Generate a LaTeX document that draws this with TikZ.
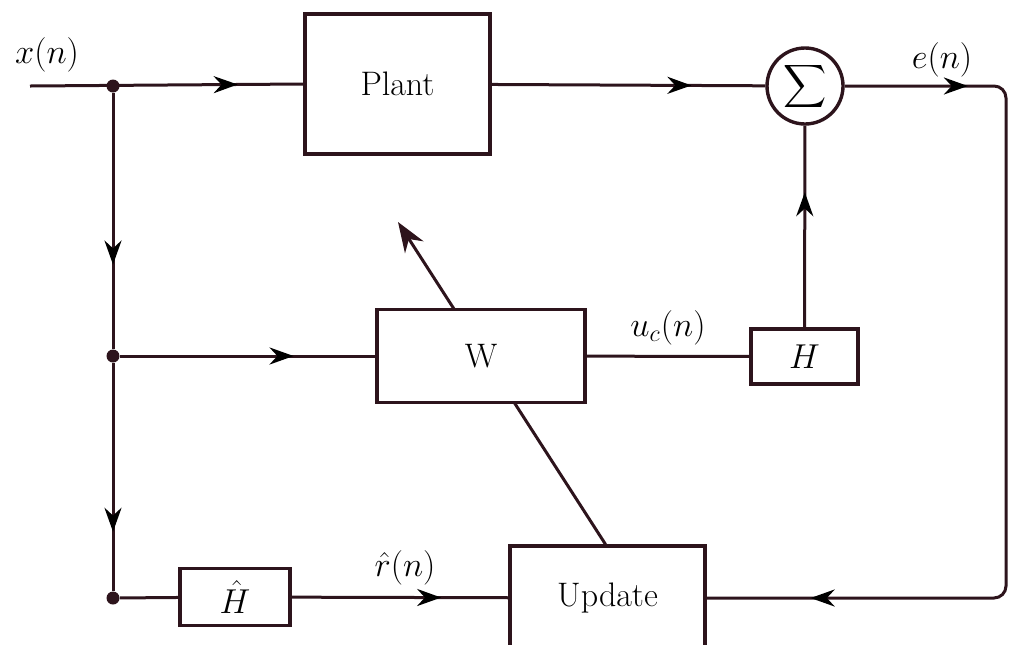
\documentclass[tikz,border=0pt]{standalone}
\usetikzlibrary{arrows.meta,decorations.markings}
\definecolor{col}{RGB}{45,20,28}
\begin{document}
\begin{tikzpicture}[x=0.5pt,y=-0.5pt,
  blk/.style={draw=col, line width=1.7pt, fill=white, inner sep=0pt, font=\fontsize{17}{20}\selectfont},
  ln/.style={draw=col, line width=1.5pt},
  arr/.style={postaction={decorate, decoration={markings, mark=at position #1 with {\arrow[black]{Stealth[length=12pt,width=8.5pt]}}}}},
  jdot/.style={circle, fill=col, inner sep=0pt, minimum size=6.5pt},
  lbl/.style={font=\fontsize{18.5}{22}\selectfont}]
\useasboundingbox (0,0) rectangle (1010,644);
% nodes
\node[blk, minimum width=92.5pt, minimum height=70pt] (plant) at (397.5,84) {Plant};
\node[blk, circle, minimum size=38pt] (sum) at (805,86) {\scalebox{1.5}{$\displaystyle\sum$}};
\node[blk, minimum width=53.5pt, minimum height=27.5pt] (H) at (804.5,356.5) {$H$};
\node[blk, minimum width=55pt, minimum height=28.5pt] (Hh) at (235,597) {$\hat{H}$};
\node[blk, minimum width=97.5pt, minimum height=52pt] (upd) at (607.5,598) {Update};
\coordinate (tip) at (398,222);
\draw[ln, -{Stealth[length=15pt,width=11pt]}] ([xshift=-1pt]upd.north) -- (tip);
\node[blk, minimum width=104pt, minimum height=46.5pt] (W) at (481,356) {W};
\coordinate (in) at (30,86);
\node[jdot] (j1) at (113,86) {};
\node[jdot] (j2) at (113,356) {};
\node[jdot] (j3) at (113,598) {};
\coordinate (c1) at (1006,86);
\coordinate (c2) at (1006,598);
% connectors
\draw[ln, arr=0.76] (in) -- (plant.west);
\draw[ln, arr=0.73] (plant) -- (sum);
\draw[ln, arr=0.67] (j1) -- (j2);
\draw[ln, arr=0.74] (j2) -- (j3);
\draw[ln, arr=0.68] (j2) -- (W);
\draw[ln] (j3) -- (Hh);
\draw[ln, arr=0.69] (Hh) -- (upd);
\draw[ln] (W) -- (H);
\draw[ln, arr=0.67] (H) -- (sum);
\draw[ln, rounded corners=6pt, arr=0.128, arr=0.892] (sum) -- (c1) -- (c2) -- (upd);
% labels
\node[lbl] (lx) at (47,55) {$x(n)$};
\node[lbl] (le) at (942,60) {$e(n)$};
\node[lbl] (lu) at (668,328) {$u_c(n)$};
\node[lbl] (lr) at (405,568) {$\hat{r}(n)$};
\end{tikzpicture}
\end{document}
